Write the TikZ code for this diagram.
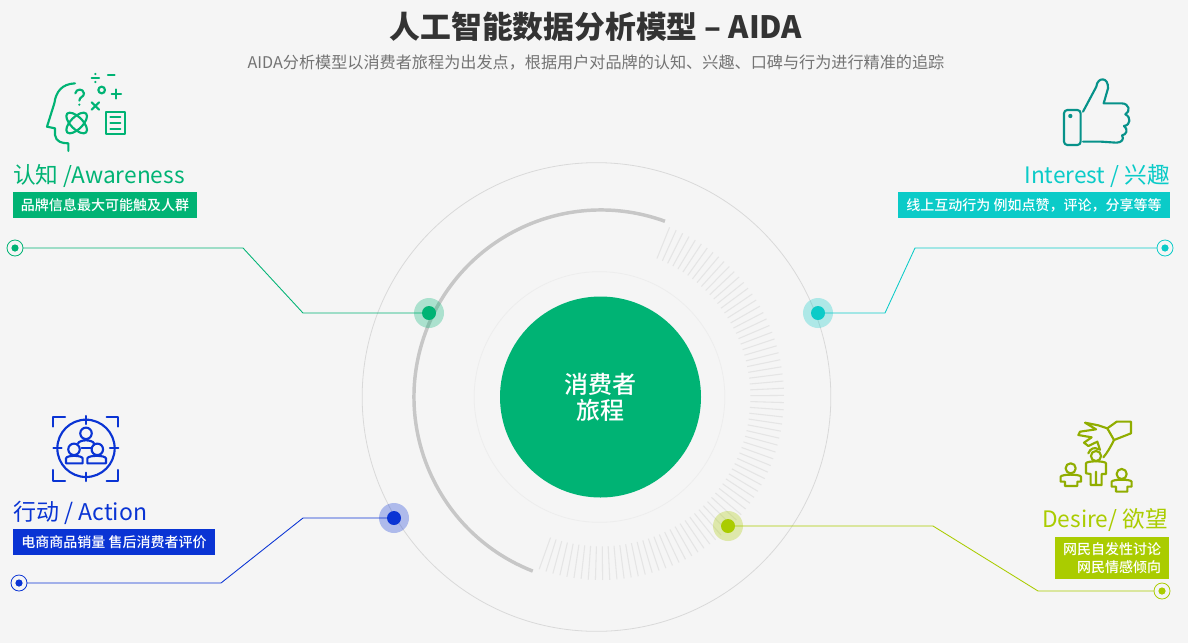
\documentclass[tikz,border=0pt]{standalone}
\usepackage{fontspec}
\setmainfont{Noto Sans CJK SC}
\newfontfamily\medfont[UprightFont=* Medium]{Noto Sans CJK SC}
\usetikzlibrary{calc}
\definecolor{cgreen}{HTML}{00B374}
\definecolor{cteal}{HTML}{0BCBC8}
\definecolor{cblue}{HTML}{0A34D4}
\definecolor{clime}{HTML}{AACC00}
\definecolor{bgc}{HTML}{F5F5F5}
\tikzset{
  ring/.style={circle,draw=#1,line width=.6pt,minimum size=1pt,inner sep=0pt,outer sep=0pt},
  haloc/.style={circle,fill=#1,opacity=.3,minimum size=22.5pt,inner sep=0pt},
  dotc/.style={circle,fill=#1,minimum size=10.5pt,inner sep=0pt,outer sep=0pt},
  termo/.style={circle,draw=#1,line width=.6pt,minimum size=12pt,inner sep=0pt,outer sep=0pt},
  termi/.style={circle,fill=#1,minimum size=5.4pt,inner sep=0pt},
  wire/.style={draw=#1,line width=.65pt},
  heading/.style={text=#1,inner sep=0pt,font=\fontsize{17pt}{20pt}\selectfont},
  barc/.style={fill=#1,text=white,inner sep=0pt,font=\medfont\fontsize{10.5pt}{13.5pt}\selectfont},
  ico/.style={draw=#1,line width=1.6pt,line join=round,line cap=round,fill=none},
  zoomed/.style={x=.25pt,y=-.25pt},
}
\begin{document}
\begin{tikzpicture}[x=.75pt,y=-.75pt]
\useasboundingbox (0,0) rectangle (1188,643);
\fill[bgc] (0,0) rectangle (1188,643);

\node[text=black!80,font=\fontsize{23.1pt}{26pt}\selectfont\bfseries,inner sep=0pt] (title) at (596,27) {人工智能数据分析模型 – AIDA};
\node[text=black!55,font=\fontsize{12.1pt}{14pt}\selectfont,inner sep=0pt] (sub) at (596,63) {AIDA分析模型以消费者旅程为出发点，根据用户对品牌的认知、兴趣、口碑与行为进行精准的追踪};

% rings
\node[ring=black!15,minimum size=351.5pt] (outer) at (596.5,397) {};
\node[ring=black!7,minimum size=188pt] (inner) at (599.5,397) {};
\node[circle,fill=cgreen,minimum size=150.75pt,inner sep=0pt,text=white,align=center,font=\medfont\fontsize{18pt}{19.5pt}\selectfont] (core) at (600.5,397) {消费者\\旅程};
\coordinate (c) at (601,397);
\foreach \a in {68,65.75,...,-110.5}
  \draw[black!10,line width=.8pt] ([shift={(\a:112pt)}]c) -- ([shift={(\a:137.25pt)}]c);
\draw[black!22,line width=2.6pt] ([shift={(70:140.25pt)}]c) arc[start angle=70,end angle=248.6,radius=140.25pt];

% hubs
\node[haloc=cgreen] at (429,313) {};
\node[haloc=cteal] at (818,313) {};
\node[haloc=cblue] at (394,518) {};
\node[haloc=clime] at (728,526) {};
\node[dotc=cgreen] (hubA) at (429,313) {};
\node[dotc=cteal] (hubI) at (818,313) {};
\node[dotc=cblue] (hubC) at (394,518) {};
\node[dotc=clime] (hubD) at (728,526) {};

% terminals
\node[termo=cgreen] (endA) at (15,248) {};
\node[termi=cgreen] at (15,248) {};
\node[termo=cteal] (endI) at (1165,248) {};
\node[termi=cteal] at (1165,248) {};
\node[termo=cblue] (endC) at (19,583) {};
\node[termi=cblue] at (19,583) {};
\node[termo=clime] (endD) at (1162,591) {};
\node[termi=clime] at (1162,591) {};

% connectors
\coordinate (a1) at (243,248); \coordinate (a2) at (303,313);
\coordinate (i1) at (915,248); \coordinate (i2) at (885,313);
\coordinate (c1) at (221,583); \coordinate (c2) at (303,518);
\coordinate (d1) at (1038,591); \coordinate (d2) at (933,526);
\draw[wire=cgreen] (endA) -- (a1) -- (a2) -- (hubA);
\draw[wire=cteal] (endI) -- (i1) -- (i2) -- (hubI);
\draw[wire=cblue] (endC) -- (c1) -- (c2) -- (hubC);
\draw[wire=clime] (endD) -- (d1) -- (d2) -- (hubD);

% headings
\node[heading=cgreen,anchor=base west] (hA) at (13,183.5) {认知 /Awareness};
\node[heading=cteal,anchor=base east] (hI) at (1170,183.5) {Interest / 兴趣};
\node[heading=cblue,anchor=base west,font=\fontsize{17.25pt}{20pt}\selectfont] (hC) at (13,520.5) {行动 / Action};
\node[heading=clime,anchor=base east] (hD) at (1168,527.5) {Desire/ 欲望};

% bars
\node[barc=cgreen,minimum width=138pt,minimum height=19.5pt] (bA) at (105,205) {品牌信息最大可能触及人群};
\node[barc=cteal,minimum width=204pt,minimum height=19.5pt] (bI) at (1034,205) {线上互动行为 例如点赞，评论，分享等等};
\node[barc=cblue,minimum width=151.5pt,minimum height=19.5pt] (bC) at (114,542) {电商商品销量 售后消费者评价};
\node[barc=clime,minimum width=85.5pt,minimum height=31.5pt,align=right] (bD) at (1112,558) {网民自发性讨论\\网民情感倾向};

% icon: head
\begin{scope}[shift={(0,60)},zoomed,ico=cgreen]
  \draw (225,70) .. controls (185,72) and (168,95) .. (163,130) -- (141,200) -- (165,205) -- (165,225) .. controls (168,245) and (185,250) .. (205,250) -- (205,273);
  \draw (275,53) -- (297,53);
  \fill[cgreen] (286,42) circle[radius=.9pt] (286,66) circle[radius=.9pt];
  \draw (324,46) -- (344,46);
  \draw (305,90) circle[radius=2.5pt];
  \draw (335,102) -- (363,102) (349,88) -- (349,116);
  \draw (275,127) -- (297,149) (297,127) -- (275,149);
  \draw (226,100) .. controls (228,85) and (250,85) .. (252,100) .. controls (252,112) and (238,110) .. (238,122);
  \fill[cgreen] (238,134) circle[radius=.9pt];
  \draw[rotate around={45:(230,189)}] (230,189) ellipse[x radius=10pt,y radius=4.5pt];
  \draw[rotate around={-45:(230,189)}] (230,189) ellipse[x radius=10pt,y radius=4.5pt];
  \draw (317,156) rectangle (375,222);
  \draw (331,172) -- (361,172) (331,189) -- (361,189) (331,206) -- (361,206);
\end{scope}

% icon: thumb
\begin{scope}[shift={(968,60)},zoomed,ico=cteal!70!black!90!cgreen]
  \draw[rounded corners=2.5pt] (288,150) rectangle (338,255);
  \fill[cteal!70!black!90!cgreen] (307,168) circle[radius=1.6pt];
  \draw (345,155) -- (385,80) .. controls (388,50) and (422,50) .. (420,85) -- (407,130) -- (460,130) .. controls (485,130) and (488,155) .. (472,163) .. controls (490,172) and (488,195) .. (468,198) .. controls (482,208) and (475,225) .. (462,226) .. controls (470,238) and (460,248) .. (445,248) -- (400,245) -- (345,245);
\end{scope}

% icon: target
\begin{scope}[shift={(0,400)},zoomed,ico=cblue]
  \draw (258,145) circle[radius=21.5pt];
  \draw (258,48) -- (258,72) (258,218) -- (258,243) (160,145) -- (185,145) (330,145) -- (355,145);
  \draw (160,80) -- (160,50) -- (195,50) (320,50) -- (355,50) -- (355,80);
  \draw (160,210) -- (160,243) -- (195,243) (320,243) -- (355,243) -- (355,210);
  \draw (258,100) circle[radius=4.3pt];
  \draw (222,148) circle[radius=4.3pt];
  \draw (292,148) circle[radius=4.3pt];
  \draw (198,190) -- (198,175) .. controls (200,165) and (245,165) .. (248,175) -- (248,190) -- cycle;
  \draw (262,190) -- (262,175) .. controls (265,165) and (315,165) .. (318,175) -- (318,190) -- cycle;
  \draw (234,130) .. controls (240,118) and (276,118) .. (282,130);
  \draw (245,143) -- (272,143);
\end{scope}

% icon: hand and people
\begin{scope}[shift={(1020,400)},zoomed,ico=clime!85!black]
  \draw (262,85) -- (290,65) -- (333,65) -- (333,100) -- (282,120) -- cycle;
  \draw (262,85) -- (235,76) -- (195,68) -- (228,88) -- (180,95) -- (175,105) -- (215,112) -- (192,128) -- (205,138) -- (232,125) -- (240,150);
  \draw (282,120) .. controls (272,140) and (262,158) .. (250,172);
  \draw (205,160) .. controls (210,145) and (225,140) .. (235,148);
  \draw (152,205) circle[radius=3.8pt];
  \draw (228,168) circle[radius=3.8pt];
  \draw (305,222) circle[radius=3.8pt];
  \draw (122,245) -- (122,230) .. controls (125,222) and (180,222) .. (183,230) -- (183,245) -- (172,245) -- (172,258) -- (135,258) -- (135,245) -- cycle;
  \draw (198,220) -- (198,190) .. controls (200,182) and (256,182) .. (258,190) -- (258,222) -- (245,222) -- (245,255) -- (212,255) -- (212,222) -- cycle (228,215) -- (228,255);
  \draw (275,260) -- (275,245) .. controls (278,237) and (332,237) .. (335,245) -- (335,260) -- (322,260) -- (322,275) -- (288,275) -- (288,260) -- cycle;
\end{scope}
\end{tikzpicture}
\end{document}
